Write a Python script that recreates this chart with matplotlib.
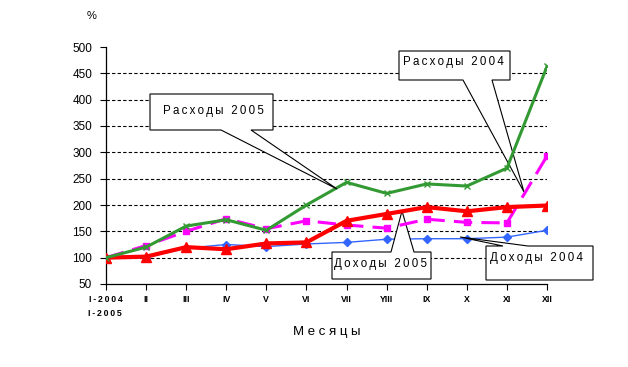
import numpy as np
import matplotlib.pyplot as plt
from matplotlib.patches import Polygon

plt.rcParams['font.family'] = ['Liberation Sans', 'DejaVu Sans']

months = ["I-2004", "II", "III", "IV", "V", "VI", "VII", "YIII", "IX", "X", "XI", "XII"]
rash_2005 = [100, 120, 160, 172, 152, 200, 243, 222, 240, 236, 270, 463]
rash_2004 = [100, 123, 150, 174, 155, 170, 162, 156, 173, 167, 166, 293]
doh_2005 = [100, 102, 120, 116, 127, 129, 170, 183, 196, 188, 196, 199]
doh_2004 = [100, 100, 118, 125, 121, 126, 129, 135, 136, 136, 139, 152]
yticks = [50, 100, 150, 200, 250, 300, 350, 400, 450, 500]

W, H = 628, 367
fig = plt.figure(figsize=(W / 100, H / 100), dpi=100)
ax = fig.add_axes([106 / W, 1 - 284 / H, 441 / W, 237 / H])

x = np.arange(len(months))


def spaced(s):
    return "\u2009".join(s)


# dashed grid, 100..450 only
ax.hlines(yticks[1:-1], 0, len(months) - 1, colors="black", linestyles=(0, (3, 2)), linewidth=0.8, zorder=1)

ax.plot(x, doh_2004, color="#3366ff", lw=1.0, marker="D", ms=4.5, zorder=3)
ax.plot(x, rash_2004, color="#ff00ff", lw=2.2, ls=(0, (6, 3)), marker="s", ms=5, zorder=4)
ax.plot(x, doh_2005, color="#ff0000", lw=3.0, marker="^", ms=7.5, zorder=5)
ax.plot(x, rash_2005, color="#339933", lw=2.2, marker="x", ms=5, mew=1, zorder=6)

ax.set_xlim(0, len(months) - 1)
ax.set_ylim(50, 500)
ax.set_yticks(yticks)
ax.set_xticks(x)
ax.set_xticklabels([spaced(m) if m[0] == "I-" or "-" in m else m for m in months],
                   fontsize=6.3, fontweight="bold")
ax.tick_params(axis="y", labelsize=8.5, length=4, width=0.8, pad=6)
ax.tick_params(axis="x", length=4, width=0.8, pad=4)
for s in ["top", "right"]:
    ax.spines[s].set_visible(False)
for s in ["left", "bottom"]:
    ax.spines[s].set_linewidth(0.9)


def px(xx, yy):
    return (xx / W, 1 - yy / H)


fig.text(*px(105, 313), spaced("I-2005"), fontsize=6.3, fontweight="bold", ha="center", va="center")
fig.text(*px(92, 16), "%", fontsize=8, ha="center", va="center")
fig.text(*px(327, 332), "М е с я ц ы", fontsize=9.5, ha="center", va="center")

# label, text pos, align, outline (pixels), zorder of the shape
callouts = [
    ("Расходы 2005", (213, 111), "center",
     [(150, 94), (273, 94), (273, 130), (251, 130), (337, 189), (221, 130), (150, 130)], 10),
    ("Расходы 2004", (403, 62), "left",
     [(399, 51), (510, 51), (510, 80), (492, 80), (524, 192), (463, 80), (399, 80)], 2),
    ("Доходы 2005", (381, 264), "center",
     [(332, 252), (391, 252), (402, 211), (414, 252), (431, 252), (431, 279), (332, 279)], 3.5),
    ("Доходы 2004", (490, 258), "left",
     [(486, 246), (503, 246), (460, 237), (528, 246), (593, 246), (593, 280), (486, 280)], 10),
]
for label, pos, ha, verts, z in callouts:
    poly = Polygon([px(a, b) for a, b in verts], closed=True, transform=fig.transFigure,
                   facecolor="white", edgecolor="black", lw=0.8, zorder=z, clip_on=False)
    ax.add_patch(poly)
    fig.text(*px(*pos), spaced(label), fontsize=8.3, ha=ha, va="center", zorder=11)

fig.savefig("out.png", dpi=100)
